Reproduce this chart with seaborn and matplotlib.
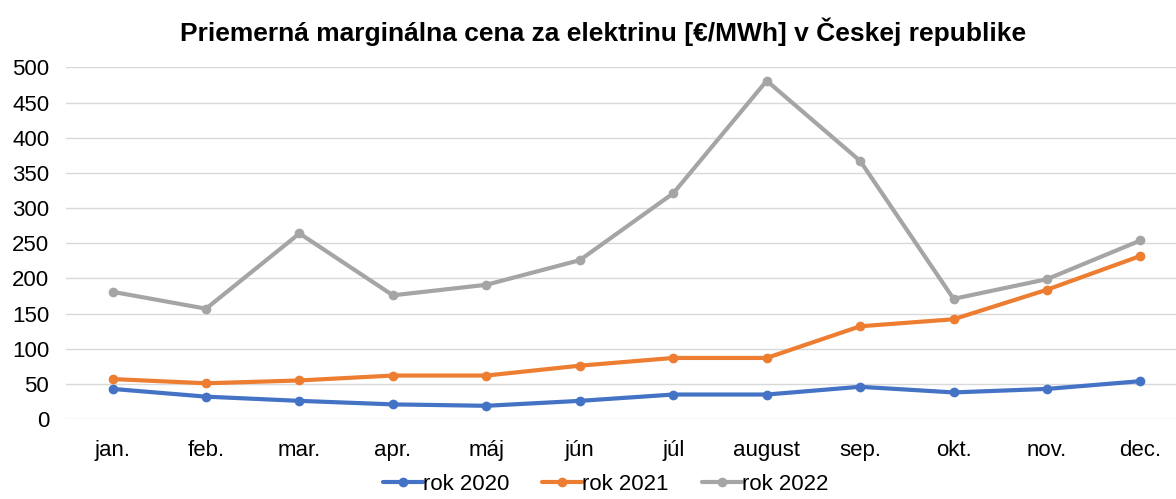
import seaborn as sns
import matplotlib.pyplot as plt
import pandas as pd

sns.set_theme(style="white")
plt.rcParams['font.family'] = ['Liberation Sans', 'DejaVu Sans']

months = ["jan.", "feb.", "mar.", "apr.", "máj", "jún", "júl", "august", "sep.", "okt.", "nov.", "dec."]
rok_2020 = [43, 32, 26, 21, 19, 26, 35, 35, 46, 38, 43, 54]
rok_2021 = [57, 51, 55, 62, 62, 76, 87, 87, 132, 142, 184, 232]
rok_2022 = [181, 157, 264, 176, 191, 226, 321, 481, 367, 171, 199, 254]
series_names = ["rok 2020", "rok 2021", "rok 2022"]
colors = ["#4472C4", "#ED7D31", "#A5A5A5"]

# long form table for seaborn
df = pd.DataFrame({
    "month": months * 3,
    "value": rok_2020 + rok_2021 + rok_2022,
    "series": [s for s in series_names for _ in months],
})

fig = plt.figure(figsize=(11.76, 4.99), dpi=100)
ax = fig.add_axes([0.056, 0.160, 0.944, 0.705])

sns.lineplot(
    data=df, x="month", y="value", hue="series",
    palette=colors, marker="o", markersize=7, markeredgewidth=0,
    linewidth=3, sort=False, ax=ax
)

ax.set_xlim(-0.5, 11.38)
ax.set_ylim(0, 500)
ax.set_yticks(range(0, 501, 50))
ax.grid(axis="y", color="#D9D9D9", linewidth=1)
ax.set_axisbelow(True)
for s in ax.spines.values():
    s.set_visible(False)
ax.tick_params(axis="both", labelsize=16, length=0, colors="black")
ax.tick_params(axis="x", pad=15)
ax.tick_params(axis="y", pad=12)
ax.set_xlabel("")
ax.set_ylabel("")

handles, labels = ax.get_legend_handles_labels()
ax.legend_.remove()
fig.legend(handles, labels, loc="lower center", bbox_to_anchor=(0.515, -0.032),
           ncol=3, frameon=False, fontsize=16, handlelength=1.8,
           handletextpad=0.0, columnspacing=1.5, labelcolor="black")

fig.suptitle("Priemerná marginálna cena za elektrinu [€/MWh] v Českej republike",
             fontsize=19, weight="bold", x=0.513, y=0.965, color="black")

fig.savefig("out.png", dpi=100)
